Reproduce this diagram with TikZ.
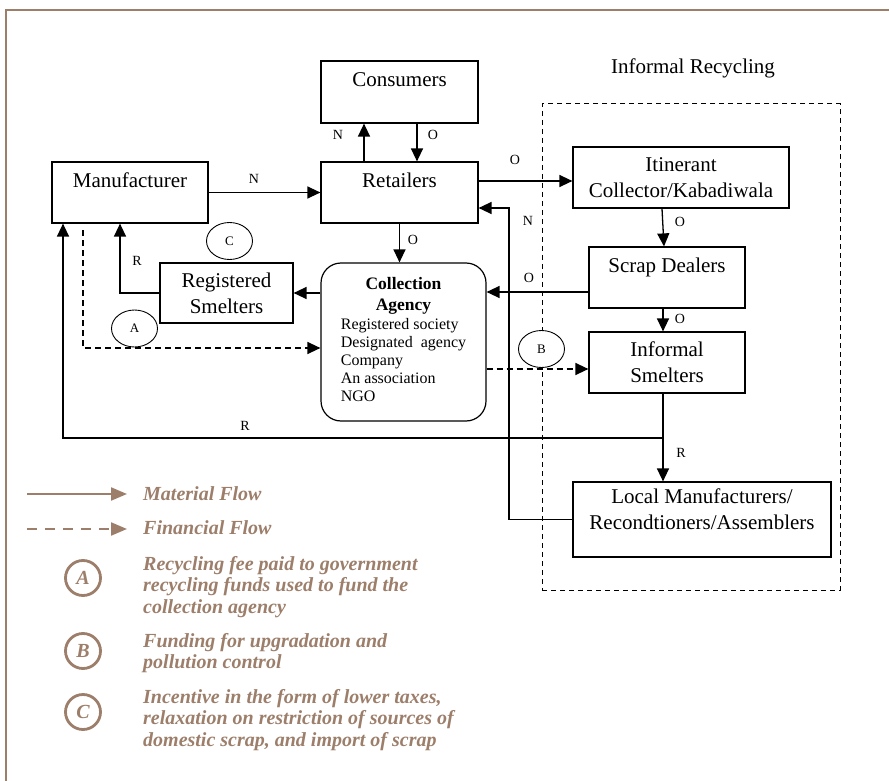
\documentclass[tikz,border=0pt]{standalone}
\usepackage{fontspec}
\setmainfont{Liberation Serif}
\usepackage{tikz}
\usetikzlibrary{shapes}
\usetikzlibrary{arrows.meta}
\definecolor{cocoa}{HTML}{9C7E6A}
\newcommand{\padline}[1][-2pt]{\\[#1]\mbox{}}
\newcommand{\headrow}[1]{\multicolumn{1}{@{}c@{}}{\bfseries\fontsize{17.5}{21}\selectfont #1}}

\begin{document}
\begin{tikzpicture}[x=1pt,y=-1pt,
		box/.style={draw,line width=1.2pt,inner sep=0pt,align=center,font=\fontsize{21}{26}\selectfont},
		flow/.style={line width=1.3pt,-{Triangle[length=13pt,width=12pt]}},
		fin/.style={flow,dash pattern=on 6pt off 4pt},
		tag/.style={font=\fontsize{14}{16}\selectfont,inner sep=0pt},
		oval/.style={draw,fill=white,ellipse,line width=0.9pt,minimum width=46pt,minimum height=37pt,inner sep=0pt,font=\fontsize{13}{15}\selectfont},
		keytext/.style={cocoa,font=\fontsize{20}{21.5}\selectfont\bfseries\itshape,align=left,inner sep=0pt},
		keyflow/.style={cocoa,line width=2.2pt,-{Triangle[length=16pt,width=13pt]}},
		keyring/.style={keytext,draw=cocoa,circle,line width=2.8pt,minimum size=35pt,inner sep=0pt}]
	\useasboundingbox (0,0) rectangle (889,781);
	\draw[cocoa,line width=2.5pt] (889,10) -- (6,10) -- (6,781);

	\node[box,minimum width=157pt,minimum height=62pt] (cons) at (399.5,92) {Consumers\padline};
	\node[box,minimum width=157pt,minimum height=61pt] (ret) at (399.5,192.5) {Retailers\padline};
	\node[box,minimum width=156pt,minimum height=61pt] (manu) at (130,192.5) {Manufacturer\padline};
	\node[box,minimum width=133pt,minimum height=60pt] (regs) at (226.5,293) {Registered\\Smelters};
	\node[box,rounded corners=20pt,minimum width=165pt,minimum height=158pt,font=\fontsize{16}{18}\selectfont] (coll) at (403.5,342)
		{\begin{tabular}{@{}l@{}}\headrow{Collection}\\[3pt]\headrow{Agency}\\[1pt]Registered society\\Designated\ \ agency\\Company\\An association\\NGO\end{tabular}};
	\node[draw,dash pattern=on 5pt off 4pt,line width=1pt,minimum width=298pt,minimum height=486pt] (informal) at (691,347) {};
	\node[font=\fontsize{21}{26}\selectfont] (informaltitle) at (693,68) {Informal Recycling};
	\node[box,fill=white,minimum width=216pt,minimum height=61pt] (itin) at (681,177.5) {Itinerant\\Collector/Kabadiwala};
	\node[box,fill=white,minimum width=156pt,minimum height=61pt] (scrap) at (667,277.5) {Scrap Dealers\padline};
	\node[box,fill=white,minimum width=156pt,minimum height=61pt] (infs) at (667,362.5) {Informal\\Smelters};
	\node[box,fill=white,minimum width=258pt,minimum height=75pt] (local) at (702,519.5) {Local Manufacturers/\\Recondtioners/Assemblers\padline[-6pt]};

	\draw[flow] (manu) -- (ret);
	\draw[flow] ([xshift=-35.5pt]ret.north) -- ([xshift=-35.5pt]cons.south);
	\draw[flow] ([xshift=17.5pt]cons.south) -- ([xshift=17.5pt]ret.north);
	\draw[flow] ([yshift=11.5pt]ret.east) -- ([yshift=11.5pt]ret.east -| itin.west);
	\coordinate (nturn) at (509,208);
	\draw[flow] (local.west) -| (nturn) -- ([yshift=-15.5pt]ret.east);
	\draw[flow] (ret.south) -- (ret.south |- coll.north);
	\draw[flow] ([xshift=-5pt]scrap.north |- itin.south) -- ([xshift=-3pt]scrap.north);
	\draw[flow] ([yshift=-14.5pt]scrap.west) -- ([yshift=-14.5pt]scrap.west -| coll.east);
	\draw[flow] ([xshift=-4pt]scrap.south) -- ([xshift=-4pt]infs.north);
	\draw[flow] ([xshift=-4pt]infs.south) -- ([xshift=-4pt]infs.south |- local.north);
	\coordinate (rjoin) at (663,438);
	\draw[flow] (rjoin) -| ([xshift=-67pt]manu.south);
	\draw[flow] (coll.west |- regs.east) -- (regs.east);
	\draw[flow] (regs.west) -| ([xshift=-10pt]manu.south);
	\coordinate (feeout) at (83,230);
	\draw[fin] (feeout) |- ([yshift=-6pt]coll.west);
	\draw[fin] ([yshift=-27pt]coll.east) -- ([yshift=-27pt]coll.east -| infs.west);

	\node[tag] (nmanu) at (254,179) {N};
	\node[tag] (ncons) at (338,135) {N};
	\node[tag] (ocons) at (433,135) {O};
	\node[tag] (oitin) at (515,160) {O};
	\node[tag] (nlocal) at (528,221) {N};
	\node[tag] (ocoll) at (413,240) {O};
	\node[tag] (oscrap) at (680,222) {O};
	\node[tag] (oback) at (529,278) {O};
	\node[tag] (oinfs) at (680,319) {O};
	\node[tag] (rlocal) at (681,453) {R};
	\node[tag] (rmanu) at (245,426) {R};
	\node[tag] (rregs) at (137,261) {R};

	\node[oval] (ovC) at (229.5,241) {C};
	\node[oval] (ovA) at (134.5,328.5) {A};
	\node[oval] (ovB) at (541.5,349) {B};

	\coordinate (matstart) at (27,494);
	\coordinate (finstart) at (27,529);
	\node[keytext,anchor=west] (matkey) at (143,494) {Material Flow};
	\node[keytext,anchor=west] (finkey) at (143,528) {Financial Flow};
	\draw[keyflow] (matstart) -- ([xshift=-16pt]matkey.west |- matstart);
	\draw[keyflow,dash pattern=on 10pt off 8pt] (finstart) -- ([xshift=-16pt]finkey.west |- finstart);
	\node[keyring] (keyA) at (83,578) {A};
	\node[keyring] (keyB) at (83,651) {B};
	\node[keyring] (keyC) at (83,712) {C};
	\node[keytext,anchor=north west] (keyAtext) at (143,556) {Recycling fee paid to government\\recycling funds used to fund the\\collection agency};
	\node[keytext,anchor=north west] (keyBtext) at (143,633) {Funding for upgradation and\\pollution control};
	\node[keytext,anchor=north west] (keyCtext) at (143,689) {Incentive in the form of lower taxes,\\relaxation on restriction of sources of\\domestic scrap, and import of scrap};
\end{tikzpicture}
\end{document}
